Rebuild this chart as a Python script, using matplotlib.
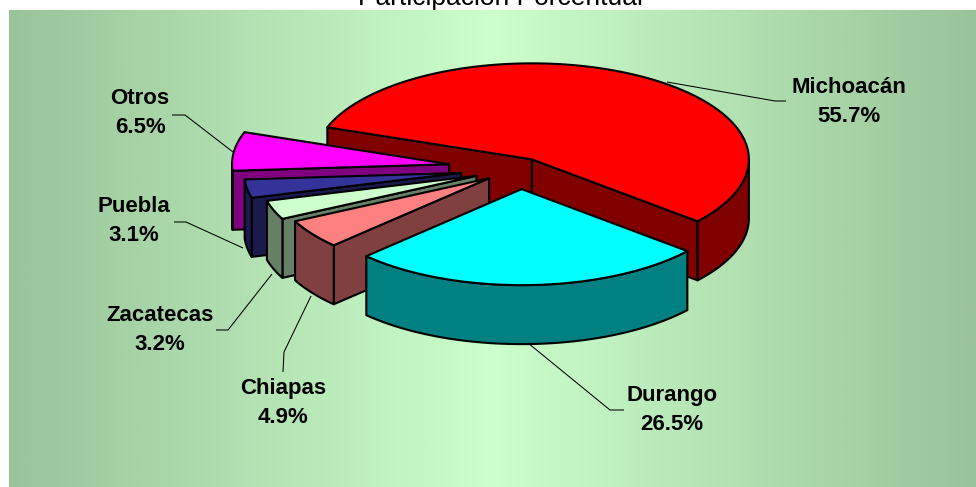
"""Exploded 3D pie of state shares, drawn as projected polygons in pixel axes."""
import numpy as np
import matplotlib
matplotlib.use("Agg")
import matplotlib.pyplot as plt
from matplotlib.colors import LinearSegmentedColormap

TITLE = "Participación Porcentual"
STATES = ["Michoacán", "Durango", "Chiapas", "Zacatecas", "Puebla", "Otros"]
SHARES = [55.7, 26.5, 4.9, 3.2, 3.1, 6.5]

TOP_COLORS = ["#FF0000", "#00FFFF", "#FF8080", "#CCFFCC", "#333399", "#FF00FF"]
SIDE_COLORS = ["#800000", "#008080", "#804040", "#668066", "#1A1A4D", "#800080"]
EXPLODE = [0.11, 0.215, 0.175, 0.215, 0.275, 0.33]
DRAW_ORDER = [0, 5, 4, 3, 2, 1]

CX, CY = 520, 168.5
RX, RY = 217, 96
DEPTH = 59
START_ANGLE = 160.5

LABEL_POS = [(849, 102), (672, 410), (283, 403), (160, 330), (134, 221), (140, 113)]
LEADERS = [
    [(667, 82), (775, 101), (786, 101)],
    [(528, 343), (610, 410), (624, 410)],
    [(311, 296), (284, 352), (283, 372)],
    [(272, 274), (228, 330), (216, 330)],
    [(243, 248), (186, 222), (174, 222)],
    [(233, 152), (185, 115), (172, 115)],
]

fig = plt.figure(figsize=(9.76, 4.87), dpi=100, facecolor="white")
ax = fig.add_axes([0, 0, 1, 1])
ax.set_xlim(0, 976)
ax.set_ylim(487, 0)
ax.axis("off")

ax.text(500, 5, TITLE, ha="center", va="baseline", fontsize=19,
        family="Liberation Sans", color="black", zorder=0)

# horizontal band, dark at the edges and pale in the middle
cmap = LinearSegmentedColormap.from_list("band", ["#99C399", "#CCFFCC", "#99C399"])
ax.imshow(np.linspace(0, 1, 512)[None, :], cmap=cmap, aspect="auto",
          extent=(9, 976, 487, 10), zorder=1)
ax.set_xlim(0, 976)
ax.set_ylim(487, 0)


def ring(ox, oy, angles):
    rad = np.radians(angles)
    return ox + RX * np.cos(rad), oy - RY * np.sin(rad)


def face(xs, ys, color, z):
    ax.fill(xs, ys, facecolor=color, edgecolor="black", linewidth=1.5,
            joinstyle="round", zorder=z)


shares = np.array(SHARES)
sweeps = shares / shares.sum() * 360
starts = START_ANGLE - np.concatenate(([0], np.cumsum(sweeps)[:-1]))
ends = starts - sweeps

for z, i in enumerate(DRAW_ORDER):
    t0, t1 = starts[i], ends[i]
    mid = np.radians((t0 + t1) / 2)
    ox = CX + EXPLODE[i] * RX * np.cos(mid)
    oy = CY - EXPLODE[i] * RY * np.sin(mid)
    base = 2 + z * 0.1

    # radial walls, only those turned toward the viewer
    for t, normal in ((t0, t0 + 90), (t1, t1 - 90)):
        if np.sin(np.radians(normal)) < 0:
            ex, ey = ring(ox, oy, np.array([t]))
            face([ox, ex[0], ex[0], ox], [oy, ey[0], ey[0] + DEPTH, oy + DEPTH],
                 SIDE_COLORS[i], base)

    # outer rim on the front half
    lo, hi = max(t1, -180), min(t0, 0)
    if hi > lo:
        rx, ry = ring(ox, oy, np.linspace(hi, lo, 60))
        face(np.r_[rx, rx[::-1]], np.r_[ry, ry[::-1] + DEPTH], SIDE_COLORS[i], base + 0.01)

    tx, ty = ring(ox, oy, np.linspace(t0, t1, 120))
    face(np.r_[ox, tx], np.r_[oy, ty], TOP_COLORS[i], base + 0.02)

for path in LEADERS:
    xs, ys = zip(*path)
    ax.plot(xs, ys, color="black", linewidth=0.75, zorder=4, solid_capstyle="butt")

for name, val, (x, y) in zip(STATES, SHARES, LABEL_POS):
    ax.text(x, y, f"{name}\n{val:.1f}%", ha="center", va="center", fontsize=16,
            fontweight="bold", family="Liberation Sans", linespacing=1.52, zorder=5)

fig.savefig("out.png", dpi=100)
